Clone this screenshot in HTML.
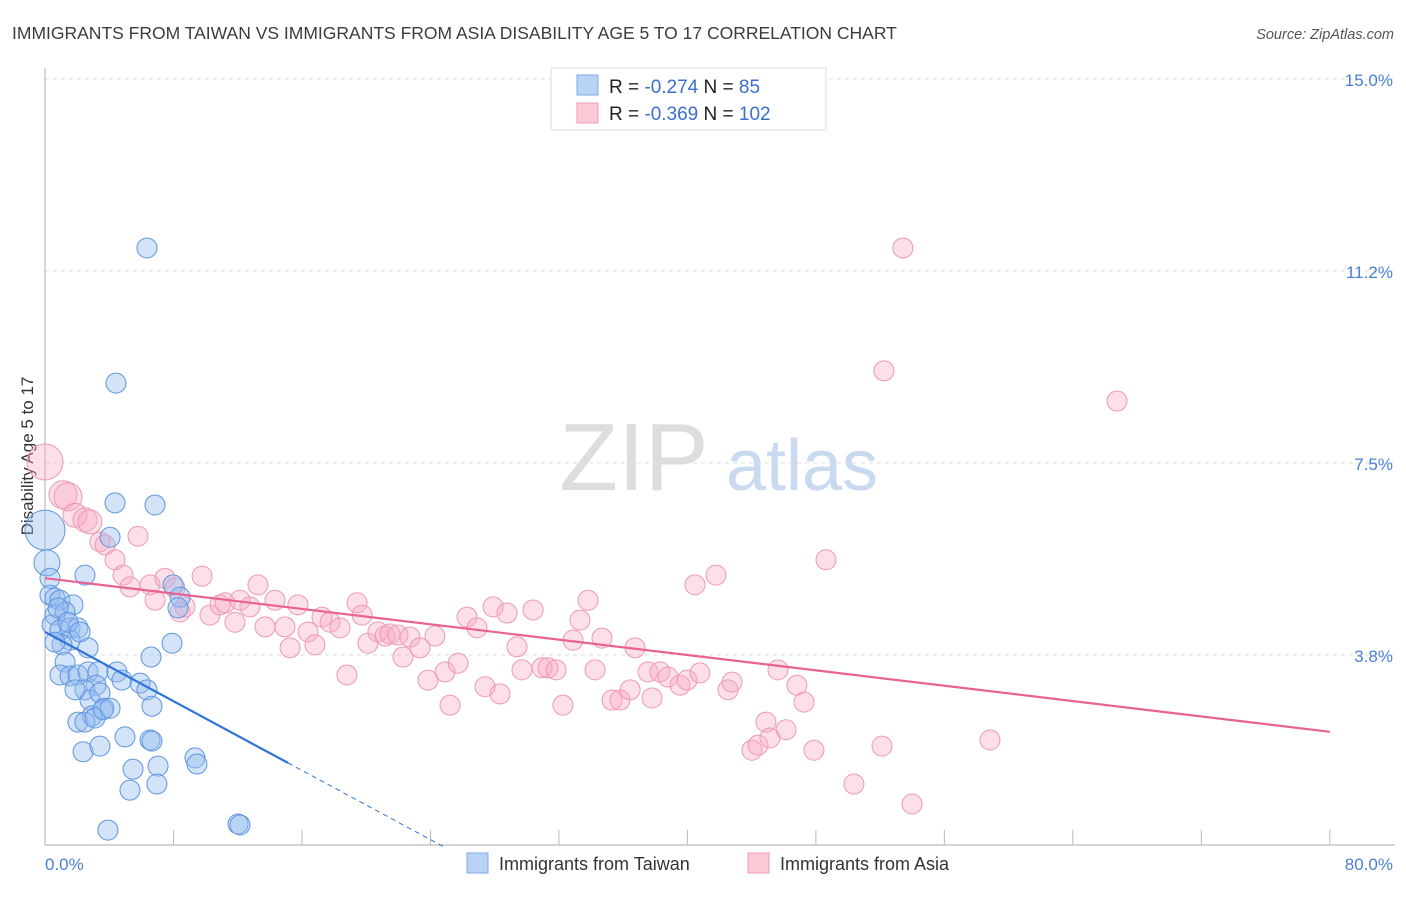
<!DOCTYPE html>
<html><head><meta charset="utf-8"><style>
body{margin:0;background:#fff;font-family:"Liberation Sans",sans-serif;}
svg text{font-family:"Liberation Sans",sans-serif;}
</style></head><body>
<svg id="chart" width="1406" height="892" xmlns="http://www.w3.org/2000/svg">
<text x="12" y="39" font-size="17.5" fill="#3c3c3c">IMMIGRANTS FROM TAIWAN VS IMMIGRANTS FROM ASIA DISABILITY AGE 5 TO 17 CORRELATION CHART</text>
<text x="1394" y="39" font-size="14.5" fill="#555" font-style="italic" text-anchor="end">Source: ZipAtlas.com</text>
<g><text x="634" y="490" font-size="96" fill="#ddd" font-family="Liberation Serif" text-anchor="middle">ZIP</text><text x="802" y="490" font-size="72" fill="#c8d9f0" text-anchor="middle">atlas</text></g>
<g id="grid"></g>
<line x1="45" y1="68" x2="45" y2="845" stroke="#bbb" stroke-width="1.2"/>
<line x1="45" y1="845" x2="1395" y2="845" stroke="#bbb" stroke-width="1.2"/>
<g id="xticks"></g>
<text transform="translate(33,456) rotate(-90)" font-size="17" fill="#333" text-anchor="middle">Disability Age 5 to 17</text>
<text x="45" y="870" font-size="17" fill="#4a7fd4">0.0%</text>
<text x="1393" y="870" font-size="17" fill="#4a7fd4" text-anchor="end">80.0%</text>
<g id="points"></g>
<g id="lines"></g>
<g>
<rect x="551" y="68" width="275" height="62" fill="#fff" stroke="#ddd"/>
<rect x="577" y="75" width="21" height="20" fill="#b9d3f5" stroke="#7fa8e3"/>
<rect x="577" y="103" width="21" height="20" fill="#f9c9d6" stroke="#ef9bb4"/>
<text x="609" y="93" font-size="19" fill="#222">R = <tspan fill="#3a70cf">-0.274</tspan>   N = <tspan fill="#3a70cf">  85</tspan></text>
<text x="609" y="120" font-size="19" fill="#222">R = <tspan fill="#3a70cf">-0.369</tspan>   N = <tspan fill="#3a70cf">102</tspan></text>
</g>
<g>
<rect x="467" y="853" width="21" height="20" fill="#b9d3f5" stroke="#7fa8e3"/>
<text x="499" y="870" font-size="18" fill="#333">Immigrants from Taiwan</text>
<rect x="748" y="853" width="21" height="20" fill="#f9c9d6" stroke="#ef9bb4"/>
<text x="780" y="870" font-size="18" fill="#333">Immigrants from Asia</text>
</g>
</svg>
<script>
const yTicks=[3.75,7.5,11.25,15];
const yTickLabels=["3.8%","7.5%","11.2%","15.0%"];
const xTicks=[8,16,24,32,40,48,56,64,72,80];
const taiwanX=[6.35,4.42,4.36,6.85,4.05,0,0.12,2.49,0.31,0.31,0.62,0.93,1.74,7.97,8.41,8.28,0.62,1.25,0.44,0.93,1.56,2.05,7.91,6.60,2.68,1.56,1.06,0.62,1.25,0.93,1.56,2.05,2.68,3.30,3.18,4.48,4.79,5.92,6.35,6.66,2.49,2.80,3.42,3.67,2.93,2.05,2.49,3.11,3.61,2.37,3.42,4.98,6.54,6.66,9.34,9.46,5.48,7.04,5.29,6.97,3.92,12.02,12.14,0.81,1.43,2.18,1.87,4.05];
const taiwanY=[11.70,9.06,6.72,6.68,6.05,6.19,5.55,5.31,5.25,4.92,4.86,4.82,4.73,5.12,4.88,4.67,4.53,4.59,4.34,4.24,4.28,4.28,3.98,3.71,3.89,4.04,3.95,4.0,3.61,3.36,3.34,3.36,3.42,3.42,3.16,3.42,3.26,3.20,3.07,2.75,3.07,2.87,3.01,2.71,2.56,2.44,2.44,2.52,2.68,1.86,1.97,2.15,2.09,2.07,1.74,1.62,1.52,1.58,1.11,1.23,0.33,0.45,0.43,4.67,4.39,4.2,3.07,2.71];
const asiaX=[0,1.12,1.43,1.87,2.49,2.80,3.42,3.74,5.79,4.36,4.86,5.29,6.54,6.85,7.47,8.09,8.41,8.72,9.78,10.27,10.90,11.21,11.83,12.14,12.76,13.26,13.70,14.32,14.94,15.26,15.75,16.38,16.81,17.25,17.75,18.37,18.80,19.43,19.74,20.11,20.73,21.17,21.48,21.98,22.29,22.73,23.35,23.85,24.28,24.91,25.22,25.72,26.28,26.90,27.40,27.90,28.33,28.77,29.39,29.70,30.39,30.95,31.32,31.82,32.25,32.88,33.31,33.81,34.25,34.68,35.31,35.80,36.43,36.74,37.55,37.80,38.29,38.79,39.54,39.98,40.47,40.78,41.78,42.53,42.78,44.89,44.02,44.40,45.14,45.64,46.14,46.82,47.26,47.88,48.63,50.37,52.12,52.24,53.42,53.99,58.84,66.75];
const asiaY=[7.52,6.88,6.84,6.48,6.39,6.35,5.96,5.90,6.07,5.61,5.31,5.08,5.12,4.82,5.25,5.06,4.59,4.69,5.29,4.53,4.73,4.77,4.39,4.82,4.69,5.12,4.30,4.82,4.30,3.89,4.73,4.20,3.95,4.49,4.39,4.28,3.36,4.77,4.53,3.98,4.20,4.12,4.16,4.14,3.71,4.10,3.89,3.26,4.12,3.42,2.77,3.59,4.49,4.28,3.13,4.69,2.99,4.57,3.91,3.46,4.63,3.50,3.50,3.46,2.77,4.04,4.43,4.82,3.46,4.08,2.87,2.87,3.07,3.89,3.42,2.91,3.42,3.32,3.16,3.26,5.12,3.40,5.31,3.07,3.22,2.44,1.89,1.99,2.13,3.46,2.29,3.16,2.83,1.89,5.61,1.23,1.97,9.30,11.70,0.84,2.09,8.71];
const taiwanTrend=[4.20,-0.169];
const asiaTrend=[5.25,-0.0375];
const X=v=>45+v*16.06, Y=v=>847-v*51.2;
const NS="http://www.w3.org/2000/svg";
function mk(tag,attrs,parent){const e=document.createElementNS(NS,tag);for(const k in attrs)e.setAttribute(k,attrs[k]);document.getElementById(parent).appendChild(e);return e;}
yTicks.forEach((t,i)=>{
 const l=mk('line',{x1:45,x2:1395,y1:Y(t),y2:Y(t),stroke:'#ddd','stroke-dasharray':'4,4'},'grid');
 
 
 const tx=mk('text',{x:1393,y:Y(t)+7,'font-size':17,fill:'#4a7fd4','text-anchor':'end'},'grid');
 tx.textContent=yTickLabels[i];
 
 
});
xTicks.forEach(t=>{
 const l=mk('line',{x1:X(t),x2:X(t),y1:830,y2:845,stroke:'#bbb'},'xticks');
 
 
});
asiaX.forEach((x,i)=>{
 const r=i===0?18:(i<3?14:(i<6?12:10));
 const c=mk('circle',{cx:X(x),cy:Y(asiaY[i]),r:r,fill:'rgba(246,170,195,0.38)',stroke:'#ef98b3','stroke-width':1},'points');
 
 
});
taiwanX.forEach((x,i)=>{
 const r=i===5?20:(i===6?13:10);
 const c=mk('circle',{cx:X(x),cy:Y(taiwanY[i]),r:r,fill:'rgba(150,188,238,0.42)',stroke:'#5d95e0','stroke-width':1},'points');
 
 
});
const a=mk('line',{x1:X(0),y1:Y(asiaTrend[0]),x2:X(80),y2:Y(asiaTrend[0]+asiaTrend[1]*80),stroke:'#e8638f','stroke-width':2.2},'lines');


const xe=15.13, x0=-taiwanTrend[0]/taiwanTrend[1];
const b=mk('line',{x1:X(0),y1:Y(taiwanTrend[0]),x2:X(xe),y2:Y(taiwanTrend[0]+taiwanTrend[1]*xe),stroke:'#2f74d8','stroke-width':2.2},'lines');


const d=mk('line',{x1:X(xe),y1:Y(taiwanTrend[0]+taiwanTrend[1]*xe),x2:X(x0),y2:Y(0),stroke:'#2f74d8','stroke-width':1,'stroke-dasharray':'5,4'},'lines');


</script>
</body></html>
